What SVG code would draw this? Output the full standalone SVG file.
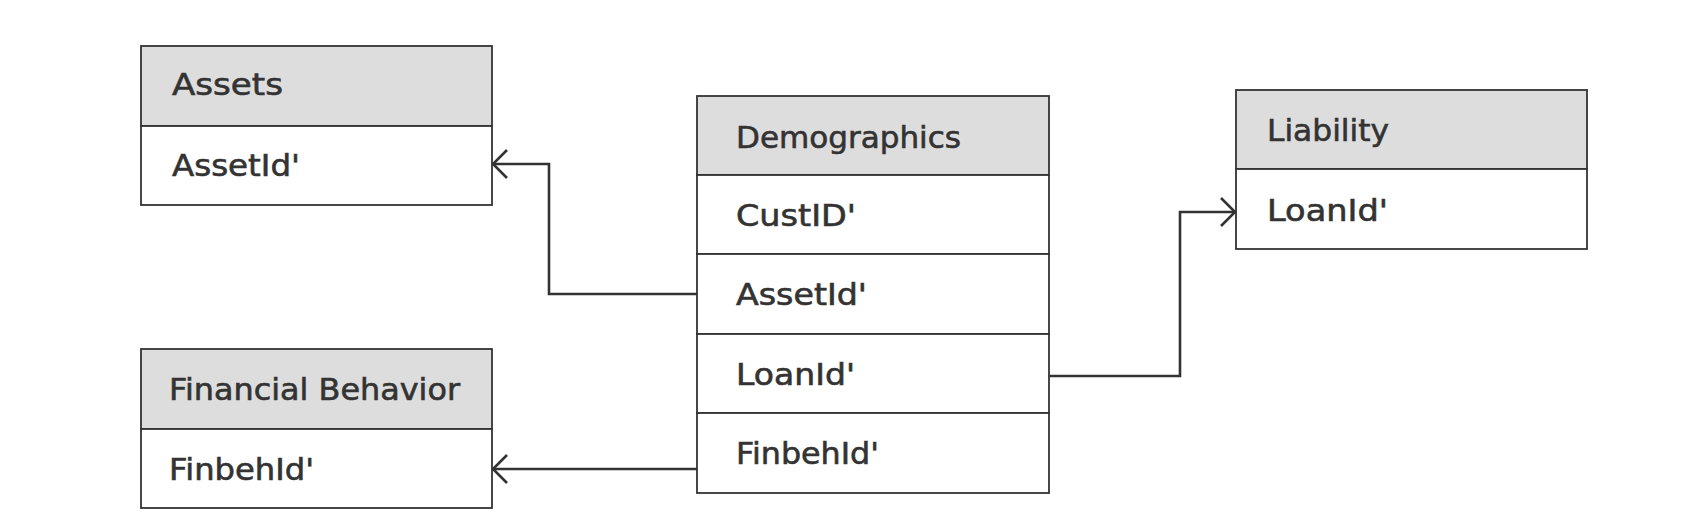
<svg xmlns="http://www.w3.org/2000/svg" width="1706" height="531" viewBox="0 0 1706 531">
<style>
.hdr{fill:#dddddd;stroke:#333333;stroke-width:1.8}
.row{fill:#ffffff;stroke:#333333;stroke-width:1.8}
.t{font-family:"DejaVu Sans","Liberation Sans",sans-serif;font-size:30px;fill:#333333;stroke:#333333;stroke-width:0.6}
.c{fill:none;stroke:#333333;stroke-width:2.6}
</style>
<defs>
<marker id="arr" markerUnits="userSpaceOnUse" markerWidth="18" markerHeight="32" viewBox="0 0 18 32" refX="16" refY="16" orient="auto">
<path d="M2,2 L16,16 L2,30" fill="none" stroke="#333333" stroke-width="2.6"/>
</marker>
</defs>
<rect width="1706" height="531" fill="#ffffff"/>
<g id="assets">
<rect class="hdr" x="141" y="46" width="351" height="80"/>
<rect class="row" x="141" y="126" width="351" height="79"/>
<text class="t" x="172" y="95" textLength="111" lengthAdjust="spacingAndGlyphs">Assets</text>
<text class="t" x="172" y="176" textLength="128" lengthAdjust="spacingAndGlyphs">AssetId'</text>
</g>
<g id="financial-behavior">
<rect class="hdr" x="141" y="349" width="351" height="80"/>
<rect class="row" x="141" y="429" width="351" height="79"/>
<text class="t" x="169" y="400" textLength="291" lengthAdjust="spacingAndGlyphs">Financial Behavior</text>
<text class="t" x="169" y="480" textLength="145" lengthAdjust="spacingAndGlyphs">FinbehId'</text>
</g>
<g id="demographics">
<rect class="hdr" x="697" y="96" width="352" height="79"/>
<rect class="row" x="697" y="175" width="352" height="79"/>
<rect class="row" x="697" y="254" width="352" height="80"/>
<rect class="row" x="697" y="334" width="352" height="79"/>
<rect class="row" x="697" y="413" width="352" height="80"/>
<text class="t" x="736" y="148" textLength="225" lengthAdjust="spacingAndGlyphs">Demographics</text>
<text class="t" x="736" y="226" textLength="120" lengthAdjust="spacingAndGlyphs">CustID'</text>
<text class="t" x="736" y="305" textLength="131" lengthAdjust="spacingAndGlyphs">AssetId'</text>
<text class="t" x="736" y="385" textLength="119" lengthAdjust="spacingAndGlyphs">LoanId'</text>
<text class="t" x="736" y="464" textLength="143" lengthAdjust="spacingAndGlyphs">FinbehId'</text>
</g>
<g id="liability">
<rect class="hdr" x="1236" y="90" width="351" height="79"/>
<rect class="row" x="1236" y="169" width="351" height="80"/>
<text class="t" x="1267" y="141" textLength="122" lengthAdjust="spacingAndGlyphs">Liability</text>
<text class="t" x="1267" y="221" textLength="121" lengthAdjust="spacingAndGlyphs">LoanId'</text>
</g>
<g id="connectors">
<path class="c" d="M697,294 H549 V164 H493" marker-end="url(#arr)"/>
<path class="c" d="M697,469 H493" marker-end="url(#arr)"/>
<path class="c" d="M1049,376 H1180 V212 H1235" marker-end="url(#arr)"/>
</g>
</svg>
